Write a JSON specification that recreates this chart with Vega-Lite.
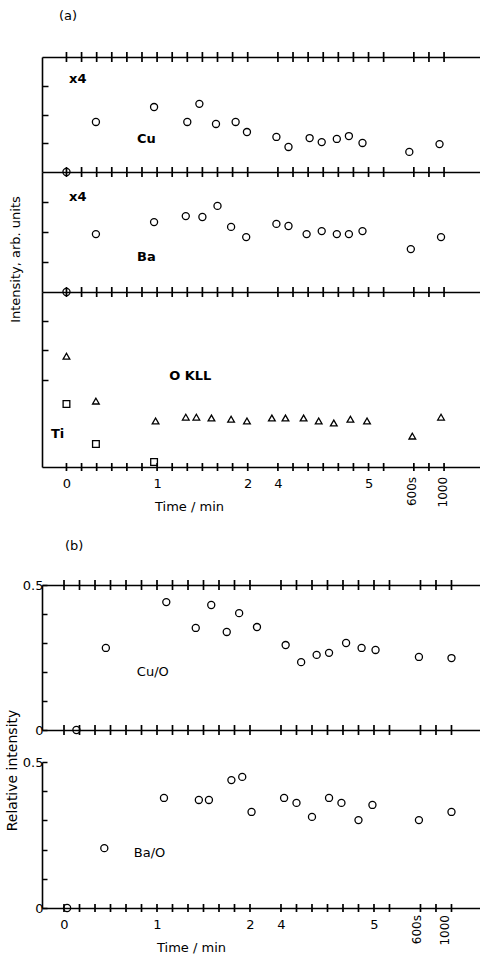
{
"$schema":"https://vega.github.io/schema/vega-lite/v6.json",
"padding":{"left":5,"top":10,"right":0,"bottom":0},
"background":"white",
"config":{
 "view":{"stroke":null},
 "font":"DejaVu Sans",
 "axis":{"grid":false,"domainColor":"#000","domainWidth":1.6,"tickColor":"#000","tickWidth":1.5,"tickCount":100,"labelColor":"#000","labelFont":"DejaVu Sans","labelFontSize":13,"titleColor":"#000","titleFont":"DejaVu Sans","titleFontSize":13,"titleFontWeight":"normal","labelOverlap":false,"labelFlush":false,"labelBound":false},
 "axisX":{"ticks":false,"tickSize":0},
 "tick":{"orient":"vertical","size":10,"thickness":1.7,"color":"#000","opacity":1},
 "title":{"font":"DejaVu Sans","fontSize":13,"fontWeight":"normal","anchor":"start","frame":"group","color":"#000"}
},
"datasets":{
 "ftCuTop":[{"t":0},{"t":1},{"t":2},{"t":3},{"t":4},{"t":5},{"t":6},{"t":7},{"t":8},{"t":9},{"t":10},{"t":11},{"t":12},{"t":14},{"t":15},{"t":16},{"t":17},{"t":18},{"t":19},{"t":20},{"t":21},{"t":23},{"t":24},{"t":25}],
 "ftCuBot":[{"t":0},{"t":1},{"t":2},{"t":3},{"t":4},{"t":5},{"t":6},{"t":7},{"t":8},{"t":9},{"t":10},{"t":11},{"t":12},{"t":14},{"t":15},{"t":16},{"t":17},{"t":18},{"t":19},{"t":20},{"t":21},{"t":23},{"t":24},{"t":25}],
 "ftBaBot":[{"t":0},{"t":1},{"t":2},{"t":3},{"t":4},{"t":5},{"t":6},{"t":7},{"t":8},{"t":9},{"t":10},{"t":11},{"t":12},{"t":14},{"t":15},{"t":16},{"t":17},{"t":18},{"t":19},{"t":20},{"t":21},{"t":23},{"t":24},{"t":25}],
 "fticks":[{"t":0},{"t":1},{"t":2},{"t":3},{"t":4},{"t":5},{"t":6},{"t":7},{"t":8},{"t":9},{"t":10},{"t":11},{"t":12},{"t":14},{"t":15},{"t":16},{"t":17},{"t":18},{"t":19},{"t":20},{"t":21},{"t":23},{"t":24},{"t":25}],
 "pts":[
  {"s":"Cu","t":0,"v":0},{"s":"Cu","t":1.95,"v":1.74},{"s":"Cu","t":5.8,"v":2.26},{"s":"Cu","t":8.0,"v":1.74},{"s":"Cu","t":8.8,"v":2.37},{"s":"Cu","t":9.9,"v":1.67},{"s":"Cu","t":11.2,"v":1.74},{"s":"Cu","t":11.95,"v":1.39},{"s":"Cu","t":13.9,"v":1.22},{"s":"Cu","t":14.7,"v":0.87},{"s":"Cu","t":16.1,"v":1.18},{"s":"Cu","t":16.9,"v":1.04},{"s":"Cu","t":17.9,"v":1.15},{"s":"Cu","t":18.7,"v":1.25},{"s":"Cu","t":19.6,"v":1.01},{"s":"Cu","t":22.7,"v":0.70},{"s":"Cu","t":24.7,"v":0.97},
  {"s":"Ba","t":0,"v":0},{"s":"Ba","t":1.95,"v":1.93},{"s":"Ba","t":5.8,"v":2.33},{"s":"Ba","t":7.9,"v":2.53},{"s":"Ba","t":9.0,"v":2.5},{"s":"Ba","t":10.0,"v":2.87},{"s":"Ba","t":10.9,"v":2.17},{"s":"Ba","t":11.9,"v":1.83},{"s":"Ba","t":13.9,"v":2.27},{"s":"Ba","t":14.7,"v":2.2},{"s":"Ba","t":15.9,"v":1.93},{"s":"Ba","t":16.9,"v":2.03},{"s":"Ba","t":17.9,"v":1.93},{"s":"Ba","t":18.7,"v":1.93},{"s":"Ba","t":19.6,"v":2.03},{"s":"Ba","t":22.8,"v":1.43},{"s":"Ba","t":24.8,"v":1.83},
  {"s":"O","t":0,"v":3.80},{"s":"O","t":1.95,"v":2.26},{"s":"O","t":5.9,"v":1.58},{"s":"O","t":7.9,"v":1.71},{"s":"O","t":8.6,"v":1.71},{"s":"O","t":9.6,"v":1.68},{"s":"O","t":10.9,"v":1.64},{"s":"O","t":11.95,"v":1.58},{"s":"O","t":13.6,"v":1.68},{"s":"O","t":14.5,"v":1.68},{"s":"O","t":15.7,"v":1.68},{"s":"O","t":16.7,"v":1.58},{"s":"O","t":17.7,"v":1.51},{"s":"O","t":18.8,"v":1.64},{"s":"O","t":19.9,"v":1.58},{"s":"O","t":22.9,"v":1.06},{"s":"O","t":24.8,"v":1.71},
  {"s":"Ti","t":0,"v":2.16},{"s":"Ti","t":1.95,"v":0.79},{"s":"Ti","t":5.8,"v":0.17},
  {"s":"CuO","t":0.8,"v":0},{"s":"CuO","t":2.7,"v":0.283},{"s":"CuO","t":6.6,"v":0.441},{"s":"CuO","t":8.5,"v":0.352},{"s":"CuO","t":9.5,"v":0.431},{"s":"CuO","t":10.5,"v":0.338},{"s":"CuO","t":11.3,"v":0.403},{"s":"CuO","t":12.45,"v":0.355},{"s":"CuO","t":14.3,"v":0.293},{"s":"CuO","t":15.3,"v":0.234},{"s":"CuO","t":16.3,"v":0.259},{"s":"CuO","t":17.1,"v":0.266},{"s":"CuO","t":18.2,"v":0.300},{"s":"CuO","t":19.2,"v":0.283},{"s":"CuO","t":20.1,"v":0.276},{"s":"CuO","t":22.9,"v":0.252},{"s":"CuO","t":25.0,"v":0.248},
  {"s":"BaO","t":0.2,"v":0},{"s":"BaO","t":2.6,"v":0.205},{"s":"BaO","t":6.45,"v":0.377},{"s":"BaO","t":8.7,"v":0.370},{"s":"BaO","t":9.35,"v":0.370},{"s":"BaO","t":10.8,"v":0.438},{"s":"BaO","t":11.5,"v":0.449},{"s":"BaO","t":12.1,"v":0.329},{"s":"BaO","t":14.2,"v":0.377},{"s":"BaO","t":15.0,"v":0.360},{"s":"BaO","t":16.0,"v":0.312},{"s":"BaO","t":17.1,"v":0.377},{"s":"BaO","t":17.9,"v":0.360},{"s":"BaO","t":19.0,"v":0.301},{"s":"BaO","t":19.9,"v":0.353},{"s":"BaO","t":22.9,"v":0.301},{"s":"BaO","t":25.0,"v":0.329}
 ],
 "labels":[
  {"p":"Cu","t":0.17,"v":3.25,"text":"x4"},
  {"p":"Cu","t":4.67,"v":1.15,"text":"Cu"},
  {"p":"Ba","t":0.17,"v":3.17,"text":"x4"},
  {"p":"Ba","t":4.67,"v":1.17,"text":"Ba"},
  {"p":"Ti","t":6.8,"v":3.12,"text":"O KLL"},
  {"p":"Ti","t":-1.03,"v":1.13,"text":"Ti"},
  {"p":"CuO","t":4.7,"v":0.2,"text":"Cu/O"},
  {"p":"BaO","t":4.5,"v":0.19,"text":"Ba/O"}
 ],
 "rot":[
  {"p":"Ti","t":22.9,"v":-0.34,"text":"600s"},
  {"p":"Ti","t":24.9,"v":-0.34,"text":"1000"},
  {"p":"BaO","t":22.8,"v":-0.024,"text":"600s"},
  {"p":"BaO","t":24.6,"v":-0.024,"text":"1000"}
 ]
},
"spacing":27,
"columns":1,
"align":"none",
"concat":[
 {"bounds":"flush","spacing":0,"vconcat":[
  {"width":438,"height":115,
   "title":{"text":"(a)","dx":17,"offset":29},
   "layer":[
    {"data":{"name":"pts"},"transform":[{"filter":"datum.s==='Cu'"}],
     "mark":{"type":"point","shape":"circle","filled":false,"strokeWidth":1.3,"size":50,"opacity":1,"color":"#000"},
     "encoding":{
      "x":{"field":"t","type":"quantitative","scale":{"domain":[-1.62,27.38],"nice":false,"zero":false},"axis":{"orient":"bottom","values":[0],"labels":false,"title":null}},
      "y":{"field":"v","type":"quantitative","scale":{"domain":[0,4],"nice":false,"zero":false},"axis":{"values":[1,2,3],"labels":false,"tickSize":-6,"title":null}}}},
    {"data":{"name":"labels"},"transform":[{"filter":"datum.p==='Cu'"}],
     "mark":{"type":"text","align":"left","baseline":"middle","fontSize":13,"fontWeight":"bold","font":"DejaVu Sans","color":"#000"},
     "encoding":{
      "x":{"field":"t","type":"quantitative","scale":{"domain":[-1.62,27.38],"nice":false,"zero":false},"axis":{"orient":"top","values":[0],"labels":false,"title":null}},
      "y":{"field":"v","type":"quantitative","scale":{"domain":[0,4],"nice":false,"zero":false}},
      "text":{"field":"text","type":"nominal"}}},
    {"data":{"name":"ftCuTop"},"mark":{"type":"tick","orient":"vertical"},
     "encoding":{"x":{"field":"t","type":"quantitative","scale":{"domain":[-1.62,27.38],"nice":false,"zero":false},"axis":null},"y":{"datum":4,"type":"quantitative"}}},
    {"data":{"name":"ftCuBot"},"mark":{"type":"tick","orient":"vertical"},
     "encoding":{"x":{"field":"t","type":"quantitative","scale":{"domain":[-1.62,27.38],"nice":false,"zero":false},"axis":null},"y":{"datum":0,"type":"quantitative"}}}
   ],
   "resolve":{"axis":{"x":"independent"}}},
  {"width":438,"height":120,
   "layer":[
    {"data":{"name":"pts"},"transform":[{"filter":"datum.s==='Ba'"}],
     "mark":{"type":"point","shape":"circle","filled":false,"strokeWidth":1.3,"size":50,"opacity":1,"color":"#000"},
     "encoding":{
      "x":{"field":"t","type":"quantitative","scale":{"domain":[-1.62,27.38],"nice":false,"zero":false},"axis":{"orient":"bottom","values":[0],"labels":false,"title":null}},
      "y":{"field":"v","type":"quantitative","scale":{"domain":[0,4],"nice":false,"zero":false},"axis":{"values":[1,2,3],"labels":false,"tickSize":-6,"title":"Intensity, arb. units","titleY":87,"titlePadding":19}}}},
    {"data":{"name":"labels"},"transform":[{"filter":"datum.p==='Ba'"}],
     "mark":{"type":"text","align":"left","baseline":"middle","fontSize":13,"fontWeight":"bold","font":"DejaVu Sans","color":"#000"},
     "encoding":{
      "x":{"field":"t","type":"quantitative","scale":{"domain":[-1.62,27.38],"nice":false,"zero":false},"axis":null},
      "y":{"field":"v","type":"quantitative","scale":{"domain":[0,4],"nice":false,"zero":false}},
      "text":{"field":"text","type":"nominal"}}},
    {"data":{"name":"ftBaBot"},"mark":{"type":"tick","orient":"vertical"},
     "encoding":{"x":{"field":"t","type":"quantitative","scale":{"domain":[-1.62,27.38],"nice":false,"zero":false},"axis":null},"y":{"datum":0,"type":"quantitative"}}}
   ],
   "resolve":{"axis":{"x":"independent"}}},
  {"width":438,"height":175,
   "layer":[
    {"data":{"name":"pts"},"transform":[{"filter":"datum.s==='O' || datum.s==='Ti'"}],
     "mark":{"type":"point","filled":false,"strokeWidth":1.3,"size":45,"opacity":1,"color":"#000"},
     "encoding":{
      "x":{"field":"t","type":"quantitative","scale":{"domain":[-1.62,27.38],"nice":false,"zero":false},"axis":{"orient":"bottom","values":[0,6,12,14,20],"labelExpr":"datum.value==0?'0':datum.value==6?'1':datum.value==12?'2':datum.value==14?'4':datum.value==20?'5':''","labelPadding":10,"title":"Time / min","titleX":147,"titlePadding":10}},
      "y":{"field":"v","type":"quantitative","scale":{"domain":[0,6],"nice":false,"zero":false},"axis":{"values":[3,4,5],"labels":false,"tickSize":-6,"title":null}},
      "shape":{"field":"s","type":"nominal","scale":{"domain":["O","Ti"],"range":["triangle-up","square"]},"legend":null}}},
    {"data":{"name":"labels"},"transform":[{"filter":"datum.p==='Ti'"}],
     "mark":{"type":"text","align":"left","baseline":"middle","fontSize":13,"fontWeight":"bold","font":"DejaVu Sans","color":"#000"},
     "encoding":{
      "x":{"field":"t","type":"quantitative","scale":{"domain":[-1.62,27.38],"nice":false,"zero":false},"axis":null},
      "y":{"field":"v","type":"quantitative","scale":{"domain":[0,6],"nice":false,"zero":false}},
      "text":{"field":"text","type":"nominal"}}},
    {"data":{"name":"rot"},"transform":[{"filter":"datum.p==='Ti'"}],
     "mark":{"type":"text","angle":270,"align":"right","baseline":"middle","fontSize":12,"font":"DejaVu Sans","color":"#000"},
     "encoding":{
      "x":{"field":"t","type":"quantitative","scale":{"domain":[-1.62,27.38],"nice":false,"zero":false},"axis":null},
      "y":{"field":"v","type":"quantitative","scale":{"domain":[0,6],"nice":false,"zero":false}},
      "text":{"field":"text","type":"nominal"}}},
    {"data":{"name":"fticks"},"mark":{"type":"tick","orient":"vertical","size":8},
     "encoding":{"x":{"field":"t","type":"quantitative","scale":{"domain":[-1.62,27.38],"nice":false,"zero":false},"axis":null},"y":{"datum":0,"type":"quantitative"}}}
   ],
   "resolve":{"axis":{"x":"independent"}}}
 ]},
 {"bounds":"flush","spacing":32,"vconcat":[
  {"width":438,"height":145,
   "title":{"text":"(b)","dx":23,"offset":26},
   "layer":[
    {"data":{"name":"pts"},"transform":[{"filter":"datum.s==='CuO'"}],
     "mark":{"type":"point","shape":"circle","filled":false,"strokeWidth":1.3,"size":50,"opacity":1,"color":"#000"},
     "encoding":{
      "x":{"field":"t","type":"quantitative","scale":{"domain":[-1.42,26.84],"nice":false,"zero":false},"axis":{"orient":"bottom","values":[0],"labels":false,"title":null}},
      "y":{"field":"v","type":"quantitative","scale":{"domain":[0,0.5],"nice":false,"zero":false},"axis":{"values":[0,0.1,0.2,0.3,0.4,0.5],"labelExpr":"datum.value>0.45?'0.5':datum.value<0.05?'0':''","tickSize":-5,"labelPadding":4,"title":"Relative intensity","titleY":185,"titlePadding":3,"titleFontSize":14}}}},
    {"data":{"name":"labels"},"transform":[{"filter":"datum.p==='CuO'"}],
     "mark":{"type":"text","align":"left","baseline":"middle","fontSize":13,"font":"DejaVu Sans","color":"#000"},
     "encoding":{
      "x":{"field":"t","type":"quantitative","scale":{"domain":[-1.42,26.84],"nice":false,"zero":false},"axis":{"orient":"top","values":[0],"labels":false,"title":null}},
      "y":{"field":"v","type":"quantitative","scale":{"domain":[0,0.5],"nice":false,"zero":false}},
      "text":{"field":"text","type":"nominal"}}},
    {"data":{"name":"fticks"},"mark":{"type":"tick","orient":"vertical"},
     "encoding":{"x":{"field":"t","type":"quantitative","scale":{"domain":[-1.42,26.84],"nice":false,"zero":false},"axis":null},"y":{"datum":0.5,"type":"quantitative"}}},
    {"data":{"name":"fticks"},"mark":{"type":"tick","orient":"vertical"},
     "encoding":{"x":{"field":"t","type":"quantitative","scale":{"domain":[-1.42,26.84],"nice":false,"zero":false},"axis":null},"y":{"datum":0,"type":"quantitative"}}}
   ],
   "resolve":{"axis":{"x":"independent"}}},
  {"width":438,"height":146,
   "layer":[
    {"data":{"name":"pts"},"transform":[{"filter":"datum.s==='BaO'"}],
     "mark":{"type":"point","shape":"circle","filled":false,"strokeWidth":1.3,"size":50,"opacity":1,"color":"#000"},
     "encoding":{
      "x":{"field":"t","type":"quantitative","scale":{"domain":[-1.42,26.84],"nice":false,"zero":false},"axis":{"orient":"bottom","values":[0,6,12,14,20],"labelExpr":"datum.value==0?'0':datum.value==6?'1':datum.value==12?'2':datum.value==14?'4':datum.value==20?'5':''","labelPadding":10,"title":"Time / min","titleX":149,"titlePadding":10}},
      "y":{"field":"v","type":"quantitative","scale":{"domain":[0,0.5],"nice":false,"zero":false},"axis":{"values":[0,0.1,0.2,0.3,0.4,0.5],"labelExpr":"datum.value>0.45?'0.5':datum.value<0.05?'0':''","tickSize":-5,"labelPadding":4,"title":null}}}},
    {"data":{"name":"labels"},"transform":[{"filter":"datum.p==='BaO'"}],
     "mark":{"type":"text","align":"left","baseline":"middle","fontSize":13,"font":"DejaVu Sans","color":"#000"},
     "encoding":{
      "x":{"field":"t","type":"quantitative","scale":{"domain":[-1.42,26.84],"nice":false,"zero":false},"axis":null},
      "y":{"field":"v","type":"quantitative","scale":{"domain":[0,0.5],"nice":false,"zero":false}},
      "text":{"field":"text","type":"nominal"}}},
    {"data":{"name":"rot"},"transform":[{"filter":"datum.p==='BaO'"}],
     "mark":{"type":"text","angle":270,"align":"right","baseline":"middle","fontSize":12,"font":"DejaVu Sans","color":"#000"},
     "encoding":{
      "x":{"field":"t","type":"quantitative","scale":{"domain":[-1.42,26.84],"nice":false,"zero":false},"axis":null},
      "y":{"field":"v","type":"quantitative","scale":{"domain":[0,0.5],"nice":false,"zero":false}},
      "text":{"field":"text","type":"nominal"}}},
    {"data":{"name":"fticks"},"mark":{"type":"tick","orient":"vertical","size":8},
     "encoding":{"x":{"field":"t","type":"quantitative","scale":{"domain":[-1.42,26.84],"nice":false,"zero":false},"axis":null},"y":{"datum":0,"type":"quantitative"}}}
   ],
   "resolve":{"axis":{"x":"independent"}}}
 ]}
]
}
